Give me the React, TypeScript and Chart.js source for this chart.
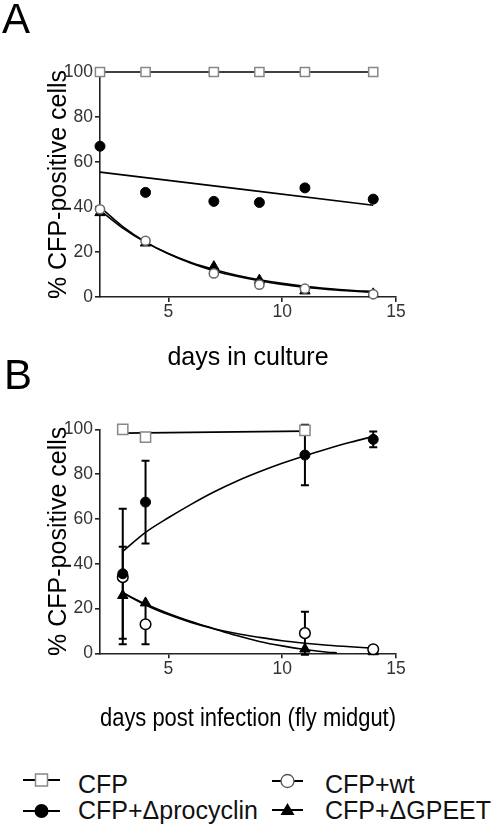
import React, { useEffect, useRef } from 'react';
import { Chart, registerables } from 'chart.js';

Chart.register(...registerables);

const FONT = "'Liberation Sans', Arial, Helvetica, sans-serif";

// ---------- Panel A : days in culture ----------
const daysA = [2, 4, 7, 9, 11, 14];
const cfpA = [100, 100, 100, 100, 100, 100];
const procyclinA = [67, 46.5, 42.5, 42, 48.5, 43.5];
const wtA = [39, 25, 10.5, 5.5, 3.7, 1.2];
const gpeetA = [37.5, 24, 13.5, 7.5, 2.7, 1.4];

const procyclinFitDaysA = [2, 14];
const procyclinFitA = [55.5, 40.8];
const decayFitDaysA = [2, 3, 4, 5, 6, 7, 8, 9, 10, 11, 12, 13, 14];
const wtFitA = [40, 31.3, 24.5, 19.2, 15.0, 11.7, 9.2, 7.2, 5.6, 4.4, 3.4, 2.7, 2.1];
const gpeetFitA = [38.5, 30.6, 24.3, 19.3, 15.3, 12.2, 9.7, 7.7, 6.1, 4.8, 3.8, 3.0, 2.4];

// ---------- Panel B : days post infection ----------
const daysB = [3, 4, 11, 14];
const cfpDaysB = [3, 4, 11];
const cfpB = [100, 96.5, 99.5];
const procyclinB = [35.5, 67.5, 88.5, 95.5];
const procyclinErrB = [29, 18.5, 13.5, 3.5];
const wtB = [34, 13, 9, 1.8];
const wtErrB = [0, 9, 9.6, 0.8];
const gpeetB = [25.8, 22.5, 1.9, 0.7];
const gpeetErrB = [21.8, 0, 0, 0];

const cfpFitDaysB = [3, 11];
const cfpFitB = [98.3, 99.2];
const procyclinFitDaysB = [3, 4, 5, 6, 7, 8, 9, 10, 11, 12, 13, 14];
const procyclinFitB = [45.5, 54, 60.5, 66.5, 72, 76.8, 81, 84.8, 88.2, 91.3, 94.2, 96.8];
const wtFitDaysB = [3, 4, 5, 6, 7, 8, 9, 10, 11, 12, 13, 14];
const wtFitB = [27, 21.6, 17.3, 13.8, 11.0, 8.8, 7.1, 5.6, 4.5, 3.6, 2.9, 2.3];
const gpeetFitDaysB = [3, 4, 5, 6, 7, 8, 9, 10, 11, 12, 12.4];
const gpeetFitB = [27, 22, 17.8, 14.2, 11.0, 7.9, 5.3, 3.3, 1.7, 0.5, 0.2];

// ---------- axes ----------
const xMin = 2;
const xMax = 15;
const xTickValues = [5, 10, 15];
const yTickValues = [0, 20, 40, 60, 80, 100];
const yTitle = '% CFP-positive cells';
const xTitleA = 'days in culture';
const xTitleB = 'days post infection (fly midgut)';

const legendLabels = {
  cfp: 'CFP',
  wt: 'CFP+wt',
  procyclin: 'CFP+\u0394procyclin',
  gpeet: 'CFP+\u0394GPEET',
};

const pts = (xs: number[], ys: number[]) => xs.map((x, i) => ({ x, y: ys[i] }));

const errorBarPlugin = {
  id: 'errorBars',
  beforeDatasetsDraw(chart: any, _args: any, opts: any) {
    const { ctx } = chart;
    const xs = chart.scales.x;
    const ys = chart.scales.y;
    ctx.save();
    ctx.strokeStyle = opts.color || '#000';
    ctx.lineWidth = opts.lineWidth || 2;
    const cap = opts.capHalfWidth || 4;
    chart.data.datasets.forEach((ds: any) => {
      const errs: number[] | undefined = ds.errorValues;
      if (!errs) return;
      ds.data.forEach((p: any, i: number) => {
        const e = errs[i];
        if (!e) return;
        const px = xs.getPixelForValue(p.x);
        const top = ys.getPixelForValue(p.y + e);
        const bot = ys.getPixelForValue(p.y - e);
        ctx.beginPath();
        ctx.moveTo(px, top);
        ctx.lineTo(px, bot);
        ctx.moveTo(px - cap, top);
        ctx.lineTo(px + cap, top);
        ctx.moveTo(px - cap, bot);
        ctx.lineTo(px + cap, bot);
        ctx.stroke();
      });
    });
    ctx.restore();
  },
};

const fitStyle = {
  showLine: true,
  pointRadius: 0,
  borderColor: '#000',
  borderWidth: 1.6,
  tension: 0.4,
  cubicInterpolationMode: 'monotone',
  clip: false,
};

function buildOptions(opts: {
  padTop: number;
  xHeight: number;
  xTitle: string;
  xTitleAlign: string;
  xTitlePadBottom: number;
}) {
  const axisColor = '#222';
  return {
    responsive: false,
    animation: false,
    events: [],
    layout: { padding: { top: opts.padTop, right: 102, left: 0, bottom: 0 } },
    plugins: {
      legend: { display: false },
      tooltip: { enabled: false },
      errorBars: { color: '#000', lineWidth: 2, capHalfWidth: 4 },
    },
    scales: {
      x: {
        type: 'linear',
        min: xMin,
        max: xMax,
        afterBuildTicks: (ax: any) => {
          ax.ticks = xTickValues.map((v) => ({ value: v }));
        },
        afterFit: (s: any) => {
          s.height = opts.xHeight;
        },
        border: { display: true, color: axisColor, width: 1.6 },
        grid: {
          display: true,
          drawOnChartArea: false,
          drawTicks: true,
          tickLength: 5,
          color: axisColor,
          lineWidth: 1.6,
        },
        ticks: {
          color: '#333',
          font: { size: 17.5, family: FONT },
          padding: 0,
          maxRotation: 0,
          autoSkip: false,
        },
        title: {
          display: true,
          text: opts.xTitle,
          color: '#000',
          align: opts.xTitleAlign,
          font: { size: 25, family: FONT },
          padding: { top: 0, bottom: opts.xTitlePadBottom },
        },
      },
      y: {
        type: 'linear',
        min: 0,
        max: 100,
        afterBuildTicks: (ax: any) => {
          ax.ticks = yTickValues.map((v) => ({ value: v }));
        },
        afterFit: (s: any) => {
          s.width = 100;
        },
        border: { display: true, color: axisColor, width: 1.6 },
        grid: {
          display: true,
          drawOnChartArea: false,
          drawTicks: true,
          tickLength: 5,
          color: axisColor,
          lineWidth: 1.6,
        },
        ticks: {
          color: '#333',
          font: { size: 17.5, family: FONT },
          padding: 2,
        },
        title: {
          display: true,
          text: yTitle,
          color: '#000',
          font: { size: 25, family: FONT },
          padding: { top: 44, bottom: 0 },
        },
      },
    },
  };
}

function datasetsA() {
  return [
    {
      label: legendLabels.cfp,
      data: pts(daysA, cfpA),
      showLine: true,
      borderColor: '#000',
      borderWidth: 1.6,
      pointStyle: 'rect',
      pointRadius: 6.5,
      pointBackgroundColor: '#fff',
      pointBorderColor: '#888',
      pointBorderWidth: 1.5,
      clip: false,
    },
    {
      label: legendLabels.procyclin,
      data: pts(daysA, procyclinA),
      showLine: false,
      pointStyle: 'circle',
      pointRadius: 5,
      pointBackgroundColor: '#000',
      pointBorderColor: '#000',
      pointBorderWidth: 1,
      clip: false,
    },
    {
      label: legendLabels.wt,
      data: pts(daysA, wtA),
      showLine: false,
      pointStyle: 'circle',
      pointRadius: 4.6,
      pointBackgroundColor: '#fff',
      pointBorderColor: '#666',
      pointBorderWidth: 1.5,
      clip: false,
    },
    {
      label: legendLabels.gpeet,
      data: pts(daysA, gpeetA),
      showLine: false,
      pointStyle: 'triangle',
      pointRadius: 6,
      pointBackgroundColor: '#000',
      pointBorderColor: '#000',
      pointBorderWidth: 1,
      clip: false,
    },
    { label: 'procyclin fit', data: pts(procyclinFitDaysA, procyclinFitA), ...fitStyle, tension: 0 },
    { label: 'wt fit', data: pts(decayFitDaysA, wtFitA), ...fitStyle },
    { label: 'gpeet fit', data: pts(decayFitDaysA, gpeetFitA), ...fitStyle },
  ];
}

function datasetsB() {
  return [
    {
      label: legendLabels.cfp,
      data: pts(cfpDaysB, cfpB),
      showLine: false,
      pointStyle: 'rect',
      pointRadius: 7.2,
      pointBackgroundColor: '#fff',
      pointBorderColor: '#888',
      pointBorderWidth: 1.5,
      clip: false,
    },
    {
      label: legendLabels.procyclin,
      data: pts(daysB, procyclinB),
      errorValues: procyclinErrB,
      showLine: false,
      pointStyle: 'circle',
      pointRadius: 5,
      pointBackgroundColor: '#000',
      pointBorderColor: '#000',
      pointBorderWidth: 1,
      clip: false,
    },
    {
      label: legendLabels.wt,
      data: pts(daysB, wtB),
      errorValues: wtErrB,
      showLine: false,
      pointStyle: 'circle',
      pointRadius: 5.3,
      pointBackgroundColor: '#fff',
      pointBorderColor: '#000',
      pointBorderWidth: 1.5,
      clip: false,
    },
    {
      label: legendLabels.gpeet,
      data: pts(daysB, gpeetB),
      errorValues: gpeetErrB,
      showLine: false,
      pointStyle: 'triangle',
      pointRadius: 6,
      pointBackgroundColor: '#000',
      pointBorderColor: '#000',
      pointBorderWidth: 1,
      clip: false,
    },
    { label: 'cfp fit', data: pts(cfpFitDaysB, cfpFitB), ...fitStyle, tension: 0 },
    { label: 'procyclin fit', data: pts(procyclinFitDaysB, procyclinFitB), ...fitStyle },
    { label: 'wt fit', data: pts(wtFitDaysB, wtFitB), ...fitStyle },
    { label: 'gpeet fit', data: pts(gpeetFitDaysB, gpeetFitB), ...fitStyle },
  ];
}

function ChartCanvas(props: { top: number; height: number; build: () => any }) {
  const ref = useRef<HTMLCanvasElement | null>(null);
  useEffect(() => {
    if (!ref.current) return;
    const chart = new Chart(ref.current, props.build());
    return () => chart.destroy();
  }, []);
  return (
    <canvas
      ref={ref}
      width={498}
      height={props.height}
      style={{ position: 'absolute', left: 0, top: props.top, width: 498, height: props.height }}
    />
  );
}

function LegendSymbol(props: { kind: string; left: number; top: number; width: number }) {
  const w = props.width;
  const h = 20;
  const cx = w / 2;
  const cy = h / 2;
  let marker: any = null;
  if (props.kind === 'rect') {
    marker = <rect x={cx - 6} y={cy - 6} width={12} height={12} fill="#fff" stroke="#888" strokeWidth={1.5} />;
  } else if (props.kind === 'circleFilled') {
    marker = <circle cx={cx} cy={cy} r={7} fill="#000" />;
  } else if (props.kind === 'circleOpen') {
    marker = <circle cx={cx} cy={cy} r={6.5} fill="#fff" stroke="#555" strokeWidth={1.3} />;
  } else {
    marker = <polygon points={`${cx - 7},${cy + 5} ${cx + 7},${cy + 5} ${cx},${cy - 7}`} fill="#000" />;
  }
  return (
    <svg
      width={w}
      height={h}
      style={{ position: 'absolute', left: props.left, top: props.top - h / 2 }}
    >
      <line x1={0} y1={cy} x2={w} y2={cy} stroke="#000" strokeWidth={2} />
      {marker}
    </svg>
  );
}

export default function App() {
  const buildA = () => ({
    type: 'scatter',
    data: { datasets: datasetsA() },
    options: buildOptions({ padTop: 72, xHeight: 83, xTitle: xTitleA, xTitleAlign: 'center', xTitlePadBottom: 7 }),
    plugins: [errorBarPlugin],
  });
  const buildB = () => ({
    type: 'scatter',
    data: { datasets: datasetsB() },
    options: buildOptions({ padTop: 49.3, xHeight: 86.7, xTitle: xTitleB, xTitleAlign: 'start', xTitlePadBottom: 6 }),
    plugins: [errorBarPlugin],
  });

  const textStyle: any = {
    position: 'absolute',
    fontFamily: FONT,
    fontSize: 25,
    lineHeight: '30px',
    color: '#111',
    whiteSpace: 'nowrap',
  };
  const letterStyle: any = {
    position: 'absolute',
    fontFamily: FONT,
    fontSize: 42,
    lineHeight: '42px',
    color: '#000',
  };

  return (
    <div
      style={{
        position: 'absolute',
        left: 0,
        top: 0,
        width: 498,
        height: 837,
        background: '#fff',
        overflow: 'hidden',
      }}
    >
      <ChartCanvas top={0} height={380} build={buildA} />
      <ChartCanvas top={380} height={360} build={buildB} />
      <div style={{ ...letterStyle, left: 2, top: -2.5 }}>A</div>
      <div style={{ ...letterStyle, left: 4, top: 353.5 }}>B</div>

      <LegendSymbol kind="rect" left={23} top={780} width={37} />
      <div style={{ ...textStyle, left: 78, top: 769 }}>{legendLabels.cfp}</div>
      <LegendSymbol kind="circleFilled" left={23} top={811} width={37} />
      <div style={{ ...textStyle, left: 78, top: 795 }}>{legendLabels.procyclin}</div>

      <LegendSymbol kind="circleOpen" left={272} top={781} width={31} />
      <div style={{ ...textStyle, left: 325, top: 769 }}>{legendLabels.wt}</div>
      <LegendSymbol kind="triangle" left={272} top={810} width={31} />
      <div style={{ ...textStyle, left: 325, top: 795 }}>{legendLabels.gpeet}</div>
    </div>
  );
}
